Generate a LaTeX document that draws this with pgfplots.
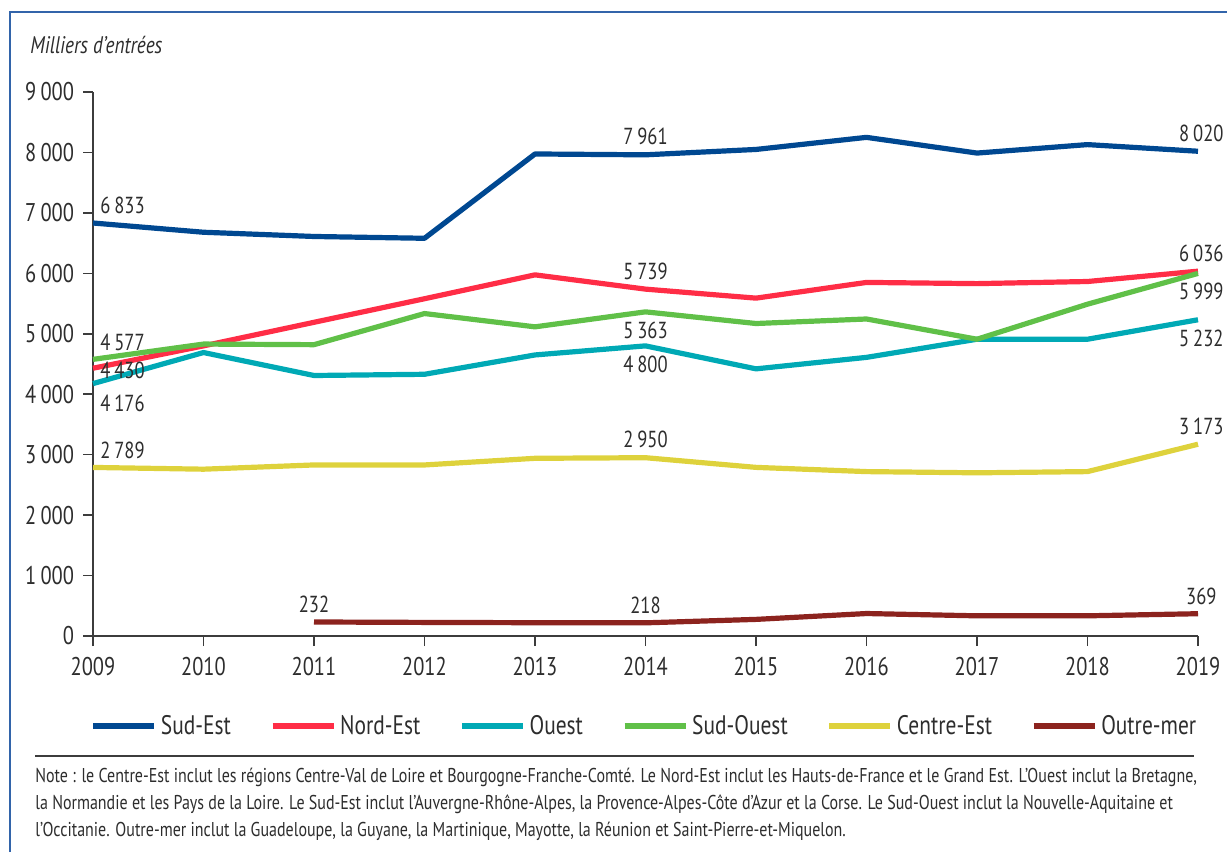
\documentclass[border=0pt]{standalone}
\usepackage{fontspec}
\setmainfont{PT Sans}[FakeStretch=0.8]
\usepackage{pgfplots}
\pgfplotsset{compat=1.18}
\definecolor{sudest}{RGB}{0,72,145}
\definecolor{nordest}{RGB}{255,45,70}
\definecolor{ouest}{RGB}{0,169,181}
\definecolor{sudouest}{RGB}{96,192,72}
\definecolor{centreest}{RGB}{222,210,60}
\definecolor{outremer}{RGB}{140,35,30}
\definecolor{textgray}{RGB}{45,45,45}
\definecolor{axisgray}{RGB}{60,60,60}
\definecolor{framecol}{RGB}{50,100,170}
\newcommand{\labfont}{\fontsize{11.6}{13}\selectfont}
\begin{document}
\begin{tikzpicture}
\useasboundingbox (0pt,0pt) rectangle (613.5pt,-426pt);
\draw[framecol, line width=1pt] (5pt,-426pt) -- (5pt,-6pt) -- (613.5pt,-6pt);
\begin{axis}[
  scale only axis, width=552.5pt, height=272pt,
  at={(46.5pt,-318pt)}, anchor=south west,
  xmin=2009, xmax=2019, ymin=0, ymax=9000,
  axis x line*=bottom, axis y line*=left,
  axis line style={draw=axisgray, line width=0.8pt, -},
  xtick={2009,2010,...,2019},
  xticklabels={2009,2010,2011,2012,2013,2014,2015,2016,2017,2018,2019},
  ytick={0,1000,...,9000},
  yticklabels={0,1\,000,2\,000,3\,000,4\,000,5\,000,6\,000,7\,000,8\,000,9\,000},
  tick style={draw=axisgray, line width=0.8pt},
  tick align=outside, major tick length=5pt,
  ticklabel style={font=\fontsize{12.8}{14}\selectfont, text=textgray},
  xticklabel style={yshift=-2pt},
  yticklabel style={xshift=-1pt},
  clip=false,
  every axis plot/.append style={line width=2.6pt, line join=round},
  legend columns=6,
  legend style={at={(0.5,-0.1654)}, anchor=center, draw=none, fill=none,
    font=\fontsize{13.4}{15}\selectfont, text=textgray,
    /tikz/every even column/.append style={column sep=17.5pt}},
  legend image code/.code={\draw[#1, line width=2.6pt] (0pt,0pt) -- (30.5pt,0pt);},
]
\addplot[sudest] coordinates {(2009,6833) (2010,6680) (2011,6610) (2012,6580) (2013,7975) (2014,7961) (2015,8050) (2016,8250) (2017,7990) (2018,8130) (2019,8020)};
\addlegendentry{Sud-Est}
\addplot[nordest] coordinates {(2009,4430) (2010,4800) (2011,5190) (2012,5580) (2013,5975) (2014,5739) (2015,5590) (2016,5850) (2017,5830) (2018,5865) (2019,6036)};
\addlegendentry{Nord-Est}
\addplot[ouest] coordinates {(2009,4176) (2010,4690) (2011,4310) (2012,4330) (2013,4650) (2014,4800) (2015,4420) (2016,4610) (2017,4910) (2018,4910) (2019,5232)};
\addlegendentry{Ouest}
\addplot[sudouest] coordinates {(2009,4577) (2010,4830) (2011,4820) (2012,5335) (2013,5115) (2014,5363) (2015,5170) (2016,5245) (2017,4910) (2018,5490) (2019,5999)};
\addlegendentry{Sud-Ouest}
\addplot[centreest] coordinates {(2009,2789) (2010,2760) (2011,2830) (2012,2830) (2013,2940) (2014,2950) (2015,2790) (2016,2720) (2017,2700) (2018,2720) (2019,3173)};
\addlegendentry{Centre-Est}
\addplot[outremer] coordinates {(2011,232) (2012,225) (2013,220) (2014,218) (2015,275) (2016,372) (2017,334) (2018,334) (2019,369)};
\addlegendentry{Outre-mer}
\begin{scope}[every node/.style={font=\labfont, text=textgray, inner sep=1pt}]
\node[anchor=south west, xshift=2.5pt] at (axis cs:2009,6950) {6\,833};
\node[anchor=south west, xshift=2.5pt] at (axis cs:2009,4680) {4\,577};
\node[anchor=west, xshift=2.5pt] at (axis cs:2009,4400) {4\,430};
\node[anchor=north west, xshift=2.5pt] at (axis cs:2009,4030) {4\,176};
\node[anchor=south west, xshift=2.5pt] at (axis cs:2009,2900) {2\,789};
\node[anchor=south] at (axis cs:2011,340) {232};
\node[anchor=south] at (axis cs:2014,8080) {7\,961};
\node[anchor=south] at (axis cs:2014,5860) {5\,739};
\node[anchor=north] at (axis cs:2014,5240) {5\,363};
\node[anchor=north] at (axis cs:2014,4680) {4\,800};
\node[anchor=south] at (axis cs:2014,3070) {2\,950};
\node[anchor=south] at (axis cs:2014,330) {218};
\node[anchor=south] at (axis cs:2019.03,8140) {8\,020};
\node[anchor=south] at (axis cs:2019.03,6150) {6\,036};
\node[anchor=north] at (axis cs:2019.03,5880) {5\,999};
\node[anchor=north] at (axis cs:2019.03,5110) {5\,232};
\node[anchor=south] at (axis cs:2019.03,3290) {3\,173};
\node[anchor=south] at (axis cs:2019.03,480) {369};
\end{scope}
\end{axis}
\node[anchor=west, font=\itshape\fontsize{12}{13}\selectfont, text=textgray, inner sep=0pt] at (15pt,-22.5pt) {Milliers d’entrées};
\draw[axisgray, line width=1pt] (17.5pt,-378pt) -- (597pt,-378pt);
\begin{scope}[every node/.style={anchor=base west, font=\fontsize{10}{12}\selectfont, text=textgray, inner sep=0pt}]
\node at (17.5pt,-391.25pt) {Note : le Centre-Est inclut les régions Centre-Val de Loire et Bourgogne-Franche-Comté. Le Nord-Est inclut les Hauts-de-France et le Grand Est. L’Ouest inclut la Bretagne,};
\node at (17.5pt,-404.75pt) {la Normandie et les Pays de la Loire. Le Sud-Est inclut l’Auvergne-Rhône-Alpes, la Provence-Alpes-Côte d’Azur et la Corse. Le Sud-Ouest inclut la Nouvelle-Aquitaine et};
\node at (17.5pt,-418.25pt) {l’Occitanie. Outre-mer inclut la Guadeloupe, la Guyane, la Martinique, Mayotte, la Réunion et Saint-Pierre-et-Miquelon.};
\end{scope}
\end{tikzpicture}
\end{document}
